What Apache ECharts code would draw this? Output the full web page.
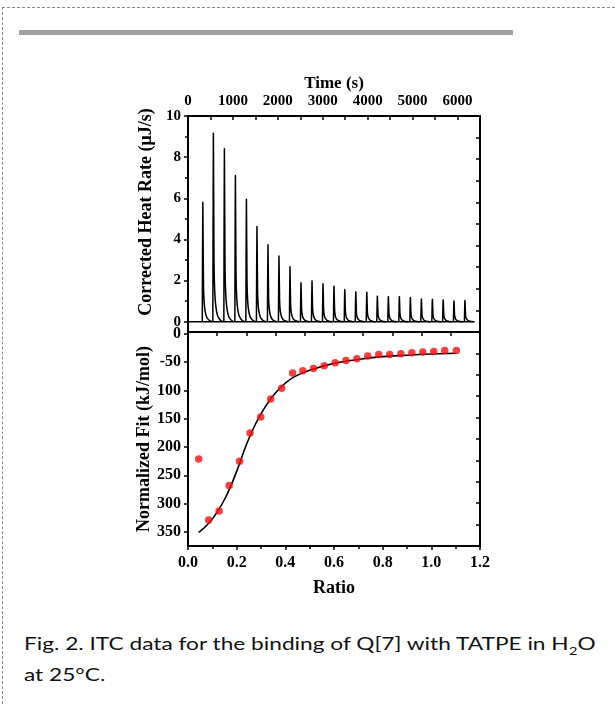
<!DOCTYPE html>
<html><head><meta charset="utf-8">
<script src="https://cdn.jsdelivr.net/npm/echarts@6/dist/echarts.min.js"></script>
<style>
html,body{margin:0;padding:0;background:#fff;width:615px;height:704px;overflow:hidden;position:relative}
#frameTop{position:absolute;left:2px;top:7px;width:613px;border-top:1px dashed #8a8a8a}
#frameLeft{position:absolute;left:2px;top:7px;height:697px;border-left:1px dashed #8a8a8a}
#bar{position:absolute;left:19px;top:30px;width:494px;height:5px;background:#a0a0a0}
#chart{position:absolute;left:0;top:0;width:615px;height:610px}
#caption{position:absolute;left:24px;top:628px;font-family:Lato,'Open Sans',sans-serif;font-size:18px;line-height:31px;color:#111;white-space:nowrap;transform:scaleX(1.26);transform-origin:0 0}
#caption sub{font-size:12px;line-height:0}
</style></head>
<body>
<div id="frameTop"></div><div id="frameLeft"></div><div id="bar"></div>
<div id="chart"></div>
<div id="caption">Fig. 2. ITC data for the binding of Q[7] with TATPE in H<sub>2</sub>O<br>at 25°C.</div>
<script>
// ---- data: raw thermogram (top panel) ----
const traceStart = 0, traceEnd = 6380;           // s
const peakTimes = [330, 565, 810, 1055, 1300, 1535, 1780, 2025, 2270, 2515, 2760, 3005, 3250,
                   3490, 3735, 3980, 4215, 4460, 4705, 4950, 5195, 5440, 5680, 5920, 6165];
const peakHeights = [5.8, 9.15, 8.4, 7.1, 5.95, 4.62, 3.74, 3.19, 2.67, 1.89, 1.98, 1.84, 1.72,
                     1.56, 1.45, 1.43, 1.24, 1.22, 1.22, 1.17, 1.10, 1.09, 1.06, 1.01, 1.03];
// ---- data: integrated heats (bottom panel, magnitude in kJ/mol) ----
const ratios = [0.044, 0.085, 0.128, 0.169, 0.212, 0.255, 0.299, 0.340, 0.385, 0.430, 0.472, 0.516,
                0.560, 0.605, 0.649, 0.694, 0.739, 0.784, 0.829, 0.875, 0.920, 0.965, 1.010, 1.055, 1.103];
const heats = [221, 329, 313, 268, 225, 175, 147, 115, 96, 69, 65, 61,
               56, 51, 47, 44, 39, 36.5, 36.5, 35, 33, 32, 31, 29, 29];
const fitRatios = [0.044, 0.08, 0.12, 0.16, 0.20, 0.24, 0.28, 0.32, 0.36, 0.40, 0.44, 0.50,
                   0.60, 0.70, 0.80, 0.90, 1.00, 1.10];
const fitHeats = [351, 337, 315, 284, 243, 196, 157, 127, 104, 87, 75, 64,
                  52, 45, 40, 37.5, 35.5, 34];
// ---- tick labels ----
const timeLabels = [0, 1000, 2000, 3000, 4000, 5000, 6000];
const timeTicks = [0, 500, 1000, 1500, 2000, 2500, 3000, 3500, 4000, 4500, 5000, 5500, 6000, 6500];
const rateLabels = [0, 2, 4, 6, 8, 10];
const rateMinorTicks = [1, 3, 5, 7, 9];
const fitTickVals = [0, 50, 100, 150, 200, 250, 300, 350];
const fitTickLabels = ['0', '-50', '100', '150', '200', '250', '300', '350'];

// peak shape (relative time offset in s, fraction of peak height) – drawing style only
const PEAK_SHAPE = [[-12, 0], [0, 1], [14, 0.32], [30, 0.16], [55, 0.08], [90, 0.035], [140, 0.012], [200, 0]];

const FONT = 'Liberation Serif';
const txtTop = {fontFamily: FONT, fontWeight: 'bold', fontSize: 15, color: '#000'};
const txtBot = {fontFamily: FONT, fontWeight: 'bold', fontSize: 16, color: '#000'};
const nameTxt = {fontFamily: FONT, fontWeight: 'bold', fontSize: 18, color: '#000'};
const line = {show: true, onZero: false, lineStyle: {color: '#000', width: 2}};
const tickStyle = {color: '#000', width: 1.5};

const chart = echarts.init(document.getElementById('chart'), null, {renderer: 'canvas'});
chart.setOption({
  animation: false,
  backgroundColor: 'transparent',
  grid: [
    {left: 188, top: 116, width: 292, height: 216},
    {left: 188, top: 332, width: 292, height: 214}
  ],
  xAxis: [
    {gridIndex: 0, type: 'value', position: 'top', min: 0, max: 6500,
     name: 'Time (s)', nameLocation: 'middle', nameGap: 24, nameTextStyle: {...nameTxt, fontSize: 17},
     axisLine: line, splitLine: {show: false},
     axisTick: {show: true, inside: true, length: 4, customValues: timeTicks, lineStyle: tickStyle},
     axisLabel: {customValues: timeLabels, margin: 7, formatter: v => String(v), ...txtTop}},
    {gridIndex: 0, type: 'value', position: 'bottom', min: 0, max: 10,
     axisLine: line, splitLine: {show: false}, axisTick: {show: false}, axisLabel: {show: false}},
    {gridIndex: 1, type: 'value', position: 'bottom', min: 0, max: 1.2, interval: 0.2,
     name: 'Ratio', nameLocation: 'middle', nameGap: 33, nameTextStyle: nameTxt,
     axisLine: line, splitLine: {show: false},
     axisTick: {show: true, inside: false, length: 4, lineStyle: tickStyle},
     minorTick: {show: true, splitNumber: 2, length: 3, lineStyle: tickStyle},
     axisLabel: {margin: 9, formatter: v => v.toFixed(1), ...txtBot}},
    {gridIndex: 1, type: 'value', position: 'top', min: 0, max: 10, interval: 1,
     axisLine: line, splitLine: {show: false},
     axisTick: {show: true, inside: true, length: 4, lineStyle: tickStyle}, axisLabel: {show: false}}
  ],
  yAxis: [
    {gridIndex: 0, type: 'value', position: 'left', min: -0.5, max: 10,
     name: 'Corrected Heat Rate (μJ/s)', nameLocation: 'middle', nameGap: 33,
     nameTextStyle: {...nameTxt, padding: [0, 0, 0, 24]},
     axisLine: line, splitLine: {show: false},
     axisTick: {show: true, inside: false, length: 4, customValues: rateLabels, lineStyle: tickStyle},
     axisLabel: {customValues: rateLabels, margin: 7, ...txtTop}},
    {gridIndex: 0, type: 'value', position: 'left', min: -0.5, max: 10,
     axisLine: {show: false}, splitLine: {show: false}, axisLabel: {show: false},
     axisTick: {show: true, inside: false, length: 3, customValues: rateMinorTicks, lineStyle: tickStyle}},
    {gridIndex: 0, type: 'value', position: 'right', min: 0, max: 10, interval: 1,
     axisLine: line, splitLine: {show: false}, axisLabel: {show: false},
     axisTick: {show: true, inside: true, length: 4, lineStyle: tickStyle}},
    {gridIndex: 1, type: 'value', position: 'left', inverse: true, min: -3.5, max: 375,
     name: 'Normalized Fit (kJ/mol)', nameLocation: 'middle', nameGap: 33, nameTextStyle: nameTxt,
     axisLine: line, splitLine: {show: false},
     axisTick: {show: true, inside: false, length: 4, customValues: fitTickVals, lineStyle: tickStyle},
     axisLabel: {customValues: fitTickVals, margin: 7, ...txtBot,
                 formatter: v => fitTickLabels[fitTickVals.indexOf(v)]}},
    {gridIndex: 1, type: 'value', position: 'right', min: 0, max: 10, interval: 1,
     axisLine: line, splitLine: {show: false}, axisLabel: {show: false},
     axisTick: {show: true, inside: true, length: 4, lineStyle: tickStyle}}
  ],
  series: [
    {type: 'line', xAxisIndex: 0, yAxisIndex: 0, data: [[traceStart, 0], [traceEnd, 0]],
     showSymbol: false, lineStyle: {color: '#000', width: 1.5}, silent: true},
    {type: 'custom', xAxisIndex: 0, yAxisIndex: 0, clip: true,
     data: peakTimes.map((t, i) => [t, peakHeights[i]]),
     renderItem: (params, api) => {
       const t = api.value(0), h = api.value(1);
       const pts = PEAK_SHAPE.map(([dt, f]) => api.coord([t + dt, h * f]));
       return {type: 'polyline', shape: {points: pts, smooth: 0.2},
               style: {stroke: '#000', lineWidth: 1.5, fill: null}};
     }},
    {type: 'line', xAxisIndex: 2, yAxisIndex: 3, data: fitRatios.map((r, i) => [r, fitHeats[i]]),
     smooth: true, showSymbol: false, lineStyle: {color: '#000', width: 1.6}, z: 2},
    {type: 'scatter', xAxisIndex: 2, yAxisIndex: 3, data: ratios.map((r, i) => [r, heats[i]]),
     symbolSize: 7.5, itemStyle: {color: '#ee1111'}, z: 3}
  ]
});
</script>
</body></html>
